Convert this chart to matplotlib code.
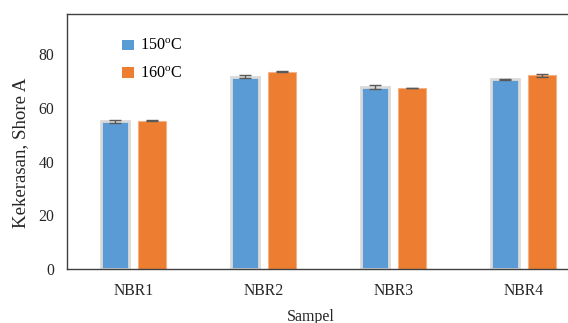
import matplotlib
matplotlib.use("Agg")
import matplotlib.pyplot as plt
from matplotlib.patches import Patch
import numpy as np

plt.rcParams['font.family'] = ['Liberation Serif', 'DejaVu Serif']
plt.rcParams['mathtext.fontset'] = 'custom'
plt.rcParams['mathtext.rm'] = 'Liberation Serif'

samples = ["NBR1", "NBR2", "NBR3", "NBR4"]
hard_150 = [55.0, 71.6, 67.8, 70.7]
err_150 = [0.6, 0.55, 0.75, 0.15]
hard_160 = [55.3, 73.5, 67.5, 72.1]
err_160 = [0.1, 0.1, 0.1, 0.6]

blue = '#5b9bd5'
orange = '#ed7d31'

x = np.arange(len(samples))
w = 0.215
off = 0.142

fig = plt.figure(figsize=(5.68, 3.23), dpi=100)
# axes runs past the right edge of the picture, like the original crop
ax = fig.add_axes([67 / 568, 1 - 269 / 323, 520 / 568, 255 / 323])

ax.bar(x - off, hard_150, w, color=blue, edgecolor='#dadada', linewidth=2, zorder=2)
ax.bar(x + off, hard_160, w, color=orange, edgecolor='#f4b183', linewidth=0.8, zorder=2)
ax.errorbar(x - off, hard_150, yerr=err_150, fmt='none', ecolor='#595959',
            elinewidth=1, capsize=4, zorder=3)
ax.errorbar(x + off, hard_160, yerr=err_160, fmt='none', ecolor='#595959',
            elinewidth=1, capsize=4, zorder=3)

ax.set_xlim(-0.51, 3.49)
ax.set_ylim(0, 95)
ax.set_yticks([0, 20, 40, 60, 80])
ax.set_xticks(x)
ax.set_xticklabels(samples)
ax.tick_params(axis='both', length=0, labelsize=11.3, colors='#262626')
ax.tick_params(axis='y', pad=9)
ax.tick_params(axis='x', pad=10)

for s in ['top', 'left', 'bottom']:
    ax.spines[s].set_color('#404040')
    ax.spines[s].set_linewidth(1)
ax.spines['right'].set_visible(False)

ax.set_ylabel('Kekerasan, Shore A', fontsize=13.6, color='#262626')
ax.yaxis.set_label_coords(-0.073, 0.455)
ax.set_xlabel('Sampel', fontsize=11.5, color='#262626')
ax.xaxis.set_label_coords(0.469, -0.155)

handles = [Patch(facecolor=blue, edgecolor='none', label='150$^{\\mathrm{o}}$C'),
           Patch(facecolor=orange, edgecolor='none', label='160$^{\\mathrm{o}}$C')]
ax.legend(handles=handles, loc='upper left', bbox_to_anchor=(107 / 568, 1 - 24 / 323),
          bbox_transform=fig.transFigure, frameon=False, fontsize=11.6,
          handlelength=0.75, handleheight=0.6, labelspacing=0.72,
          handletextpad=0.4)

fig.savefig('out.png', dpi=100)
